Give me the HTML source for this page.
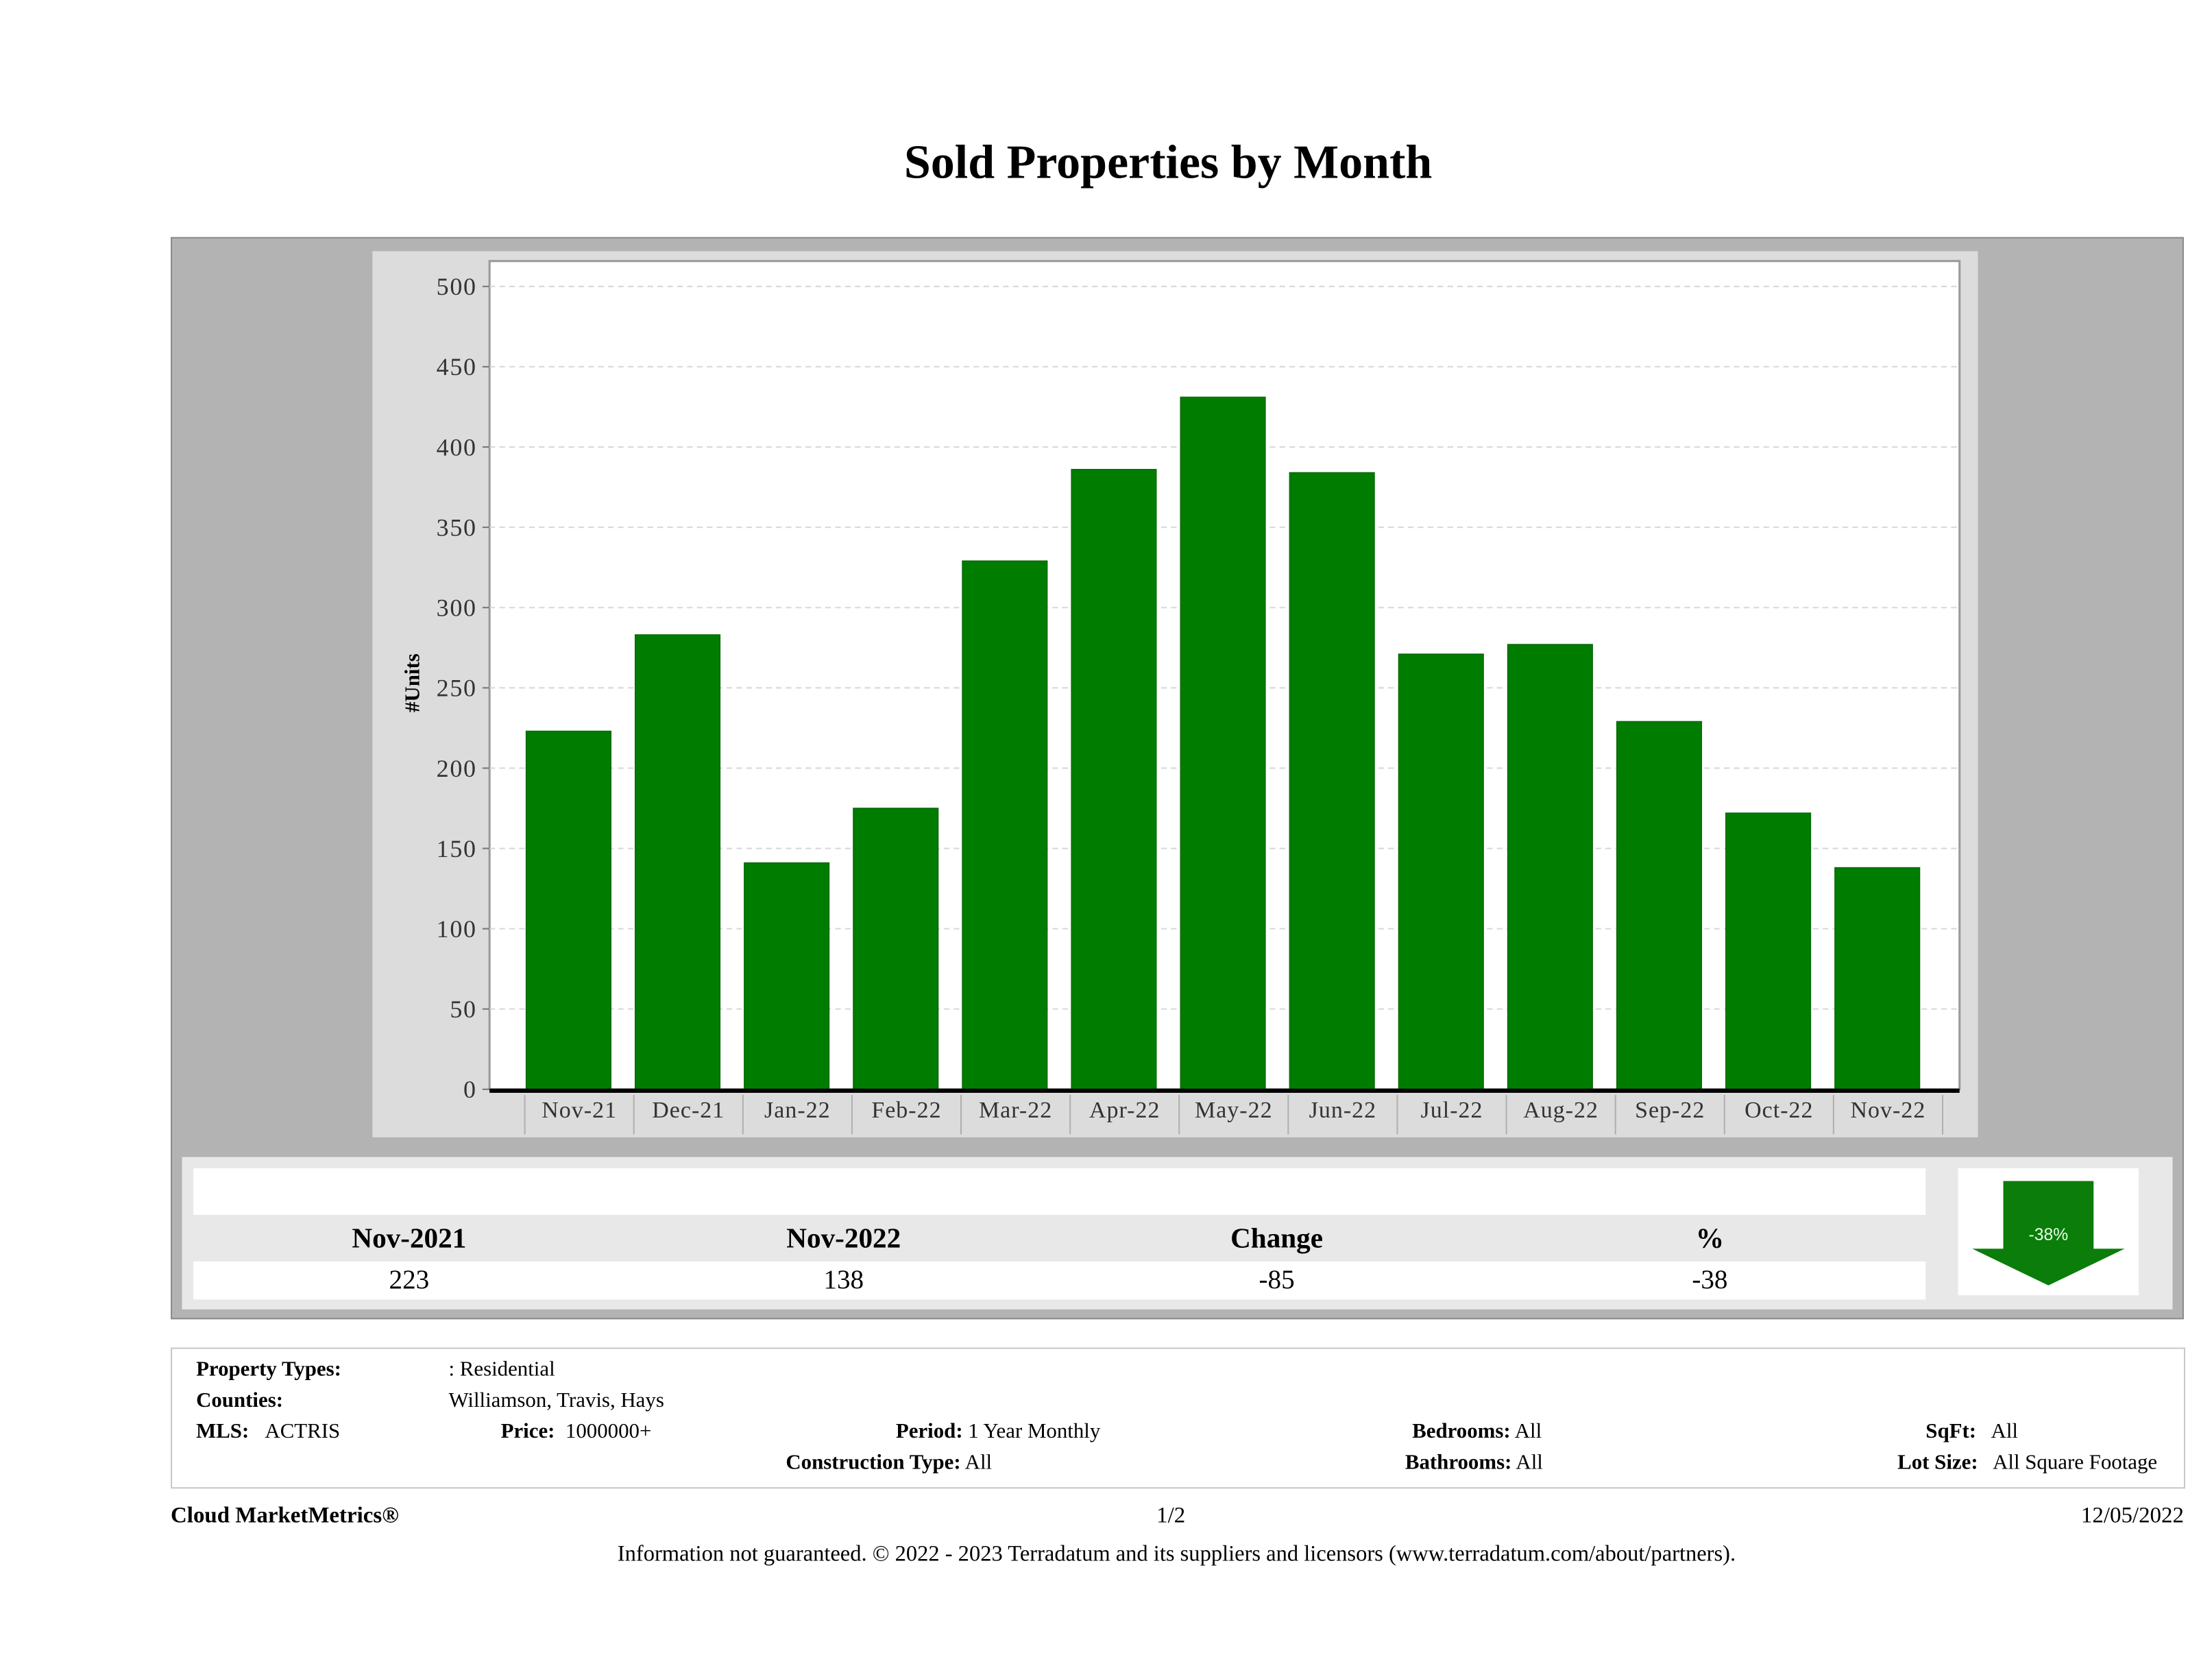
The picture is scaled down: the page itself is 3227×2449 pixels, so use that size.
<!DOCTYPE html>
<html><head><meta charset="utf-8"><style>
html,body{margin:0;padding:0;background:#fff;width:3227px;height:2448px;overflow:hidden;}
#wrap{position:absolute;left:0;top:0;width:1568px;height:1190px;transform:scale(2.0581);transform-origin:0 0;font-family:"Liberation Serif",serif;color:#000;}
.abs{position:absolute;}
.t{position:absolute;white-space:nowrap;font-size:15px;line-height:15px;}
.b{font-weight:bold;}
</style></head><body>
<div id="wrap">
<div class="abs b" style="left:0;width:1656px;top:97px;font-size:34px;text-align:center;">Sold Properties by Month</div>
<div class="abs" style="left:121px;top:168px;width:1425px;height:765px;background:#b3b3b3;border:1px solid #8c8c8c;"></div>
<svg class="abs" id="chart" style="left:0;top:0" width="1568" height="1190"></svg>
<div class="abs" style="left:129px;top:820px;width:1411px;height:108px;background:#e8e8e8;"></div>
<div class="abs" style="left:137px;top:828px;width:1228px;height:33px;background:#fff;"></div>
<div class="abs" style="left:137px;top:894px;width:1228px;height:27px;background:#fff;"></div>
<div class="t b" style="left:190px;width:200px;text-align:center;top:868px;font-size:20px;line-height:20px;">Nov-2021</div>
<div class="t b" style="left:498px;width:200px;text-align:center;top:868px;font-size:20px;line-height:20px;">Nov-2022</div>
<div class="t b" style="left:805px;width:200px;text-align:center;top:868px;font-size:20px;line-height:20px;">Change</div>
<div class="t b" style="left:1112px;width:200px;text-align:center;top:868px;font-size:20px;line-height:20px;">%</div>
<div class="t" style="left:190px;width:200px;text-align:center;top:898px;font-size:19px;line-height:20px;">223</div>
<div class="t" style="left:498px;width:200px;text-align:center;top:898px;font-size:19px;line-height:20px;">138</div>
<div class="t" style="left:805px;width:200px;text-align:center;top:898px;font-size:19px;line-height:20px;">-85</div>
<div class="t" style="left:1112px;width:200px;text-align:center;top:898px;font-size:19px;line-height:20px;">-38</div>
<div class="abs" style="left:1388px;top:828px;width:128px;height:90px;background:#fff;"></div>
<svg class="abs" style="left:1388px;top:828px" width="128" height="90">
<polygon points="32,9 96,9 96,57 118,57 64,83 10,57 32,57" fill="#0a7d0a"/>
<text x="64" y="51" font-size="12" fill="#e8ffe8" text-anchor="middle" font-family="Liberation Sans, sans-serif">-38%</text>
</svg>
<div class="abs" style="left:121px;top:955px;width:1426px;height:98px;border:1px solid #c8c8c8;"></div>
<div class="t b" style="left:139px;top:964px;">Property Types:</div>
<div class="t" style="left:318px;top:964px;">: Residential</div>
<div class="t b" style="left:139px;top:986px;">Counties:</div>
<div class="t" style="left:318px;top:986px;">Williamson, Travis, Hays</div>
<div class="t" style="left:139px;top:1008px;"><b>MLS:</b>&nbsp;&nbsp;&nbsp;ACTRIS</div>
<div class="t" style="left:355px;top:1008px;"><b>Price:</b>&nbsp; 1000000+</div>
<div class="t" style="left:635px;top:1008px;"><b>Period:</b> 1 Year Monthly</div>
<div class="t" style="left:557px;top:1030px;"><b>Construction Type:</b> All</div>
<div class="t" style="left:1001px;top:1008px;"><b>Bedrooms:</b> All</div>
<div class="t" style="left:996px;top:1030px;"><b>Bathrooms:</b> All</div>
<div class="t" style="left:1365px;top:1008px;"><b>SqFt:</b>&nbsp;&nbsp; All</div>
<div class="t" style="left:1345px;top:1030px;"><b>Lot Size:</b>&nbsp;&nbsp; All Square Footage</div>
<div class="t b" style="left:121px;top:1066px;font-size:16px;line-height:17px;">Cloud MarketMetrics®</div>
<div class="t" style="left:780px;width:100px;text-align:center;top:1066px;font-size:16px;line-height:17px;">1/2</div>
<div class="t" style="left:1400px;width:148px;text-align:right;top:1066px;font-size:16px;line-height:17px;">12/05/2022</div>
<div class="t" style="left:0;width:1668px;text-align:center;top:1093px;font-size:15.8px;line-height:17px;">Information not guaranteed. © 2022 - 2023 Terradatum and its suppliers and licensors (www.terradatum.com/about/partners).</div>
</div>
<script>
const categories = ["Nov-21","Dec-21","Jan-22","Feb-22","Mar-22","Apr-22","May-22","Jun-22","Jul-22","Aug-22","Sep-22","Oct-22","Nov-22"];
const soldUnits = [223,283,141,175,329,386,431,384,271,277,229,172,138];
const yTicks = [0,50,100,150,200,250,300,350,400,450,500];

const NS = "http://www.w3.org/2000/svg";
const svg = document.getElementById('chart');
const plot = {l:347, r:1389, t:185, b:772};
const yMin = 0, yZero = 772, yTop = 203, yTopVal = 500;
function yPos(v){ return yZero - (v - yMin) * (yZero - yTop) / (yTopVal - yMin); }
const bandStart = 372, bandEnd = 1377;
const bandW = (bandEnd - bandStart) / categories.length;
function xBand(i){ return bandStart + i * bandW; }
function mk(tag, attrs){ const e = document.createElementNS(NS, tag); for (const k in attrs) e.setAttribute(k, attrs[k]); svg.appendChild(e); return e; }

let e = mk('rect', {x:264, y:178, width:1138, height:628, fill:'#dcdcdc'});


e = mk('rect', {x:plot.l, y:plot.t, width:plot.r-plot.l, height:plot.b-plot.t, fill:'#fff', stroke:'#9a9a9a', 'stroke-width':1.5});



yTicks.forEach(v => {
  const y = yPos(v);
  if (v > 0) {
    const g = mk('line', {x1:plot.l, x2:plot.r, y1:y, y2:y, stroke:'#d8d8d8', 'stroke-dasharray':'4,3', 'stroke-width':1});
    
    
  }
  const tk = mk('line', {x1:plot.l-5, x2:plot.l, y1:y, y2:y, stroke:'#777', 'stroke-width':1});
  
  
  const t = mk('text', {x:338, y:y+6, 'text-anchor':'end', 'font-size':17.5, 'letter-spacing':0.8, fill:'#333', 'font-family':'Liberation Serif, serif'});
  t.textContent = v;
  
  
});

const yt = mk('text', {x:0, y:0, transform:'translate(297,484) rotate(-90)', 'text-anchor':'middle', 'font-size':15, 'font-weight':'bold', 'font-family':'Liberation Serif, serif'});
yt.textContent = '#Units';



soldUnits.forEach((v, i) => {
  const x = xBand(i) + 1, w = 60, y = yPos(v);
  const b = mk('rect', {x:x, y:y, width:w, height:yZero-y, fill:'#007d00', stroke:'#0a6a0a', 'stroke-width':0.8});
  
  
});

categories.forEach((c, i) => {
  const sep = mk('line', {x1:xBand(i), x2:xBand(i), y1:776, y2:804, stroke:'#b0b0b0', 'stroke-width':1});
  
  
  const t = mk('text', {x:xBand(i)+bandW/2, y:792, 'text-anchor':'middle', 'font-size':16.5, 'letter-spacing':0.5, fill:'#333', 'font-family':'Liberation Serif, serif'});
  t.textContent = c;
  
  
});
const last = mk('line', {x1:bandEnd, x2:bandEnd, y1:776, y2:804, stroke:'#b0b0b0', 'stroke-width':1});



const ax = mk('line', {x1:plot.l, x2:plot.r, y1:yZero+1, y2:yZero+1, stroke:'#000', 'stroke-width':3});


</script>
</body></html>
